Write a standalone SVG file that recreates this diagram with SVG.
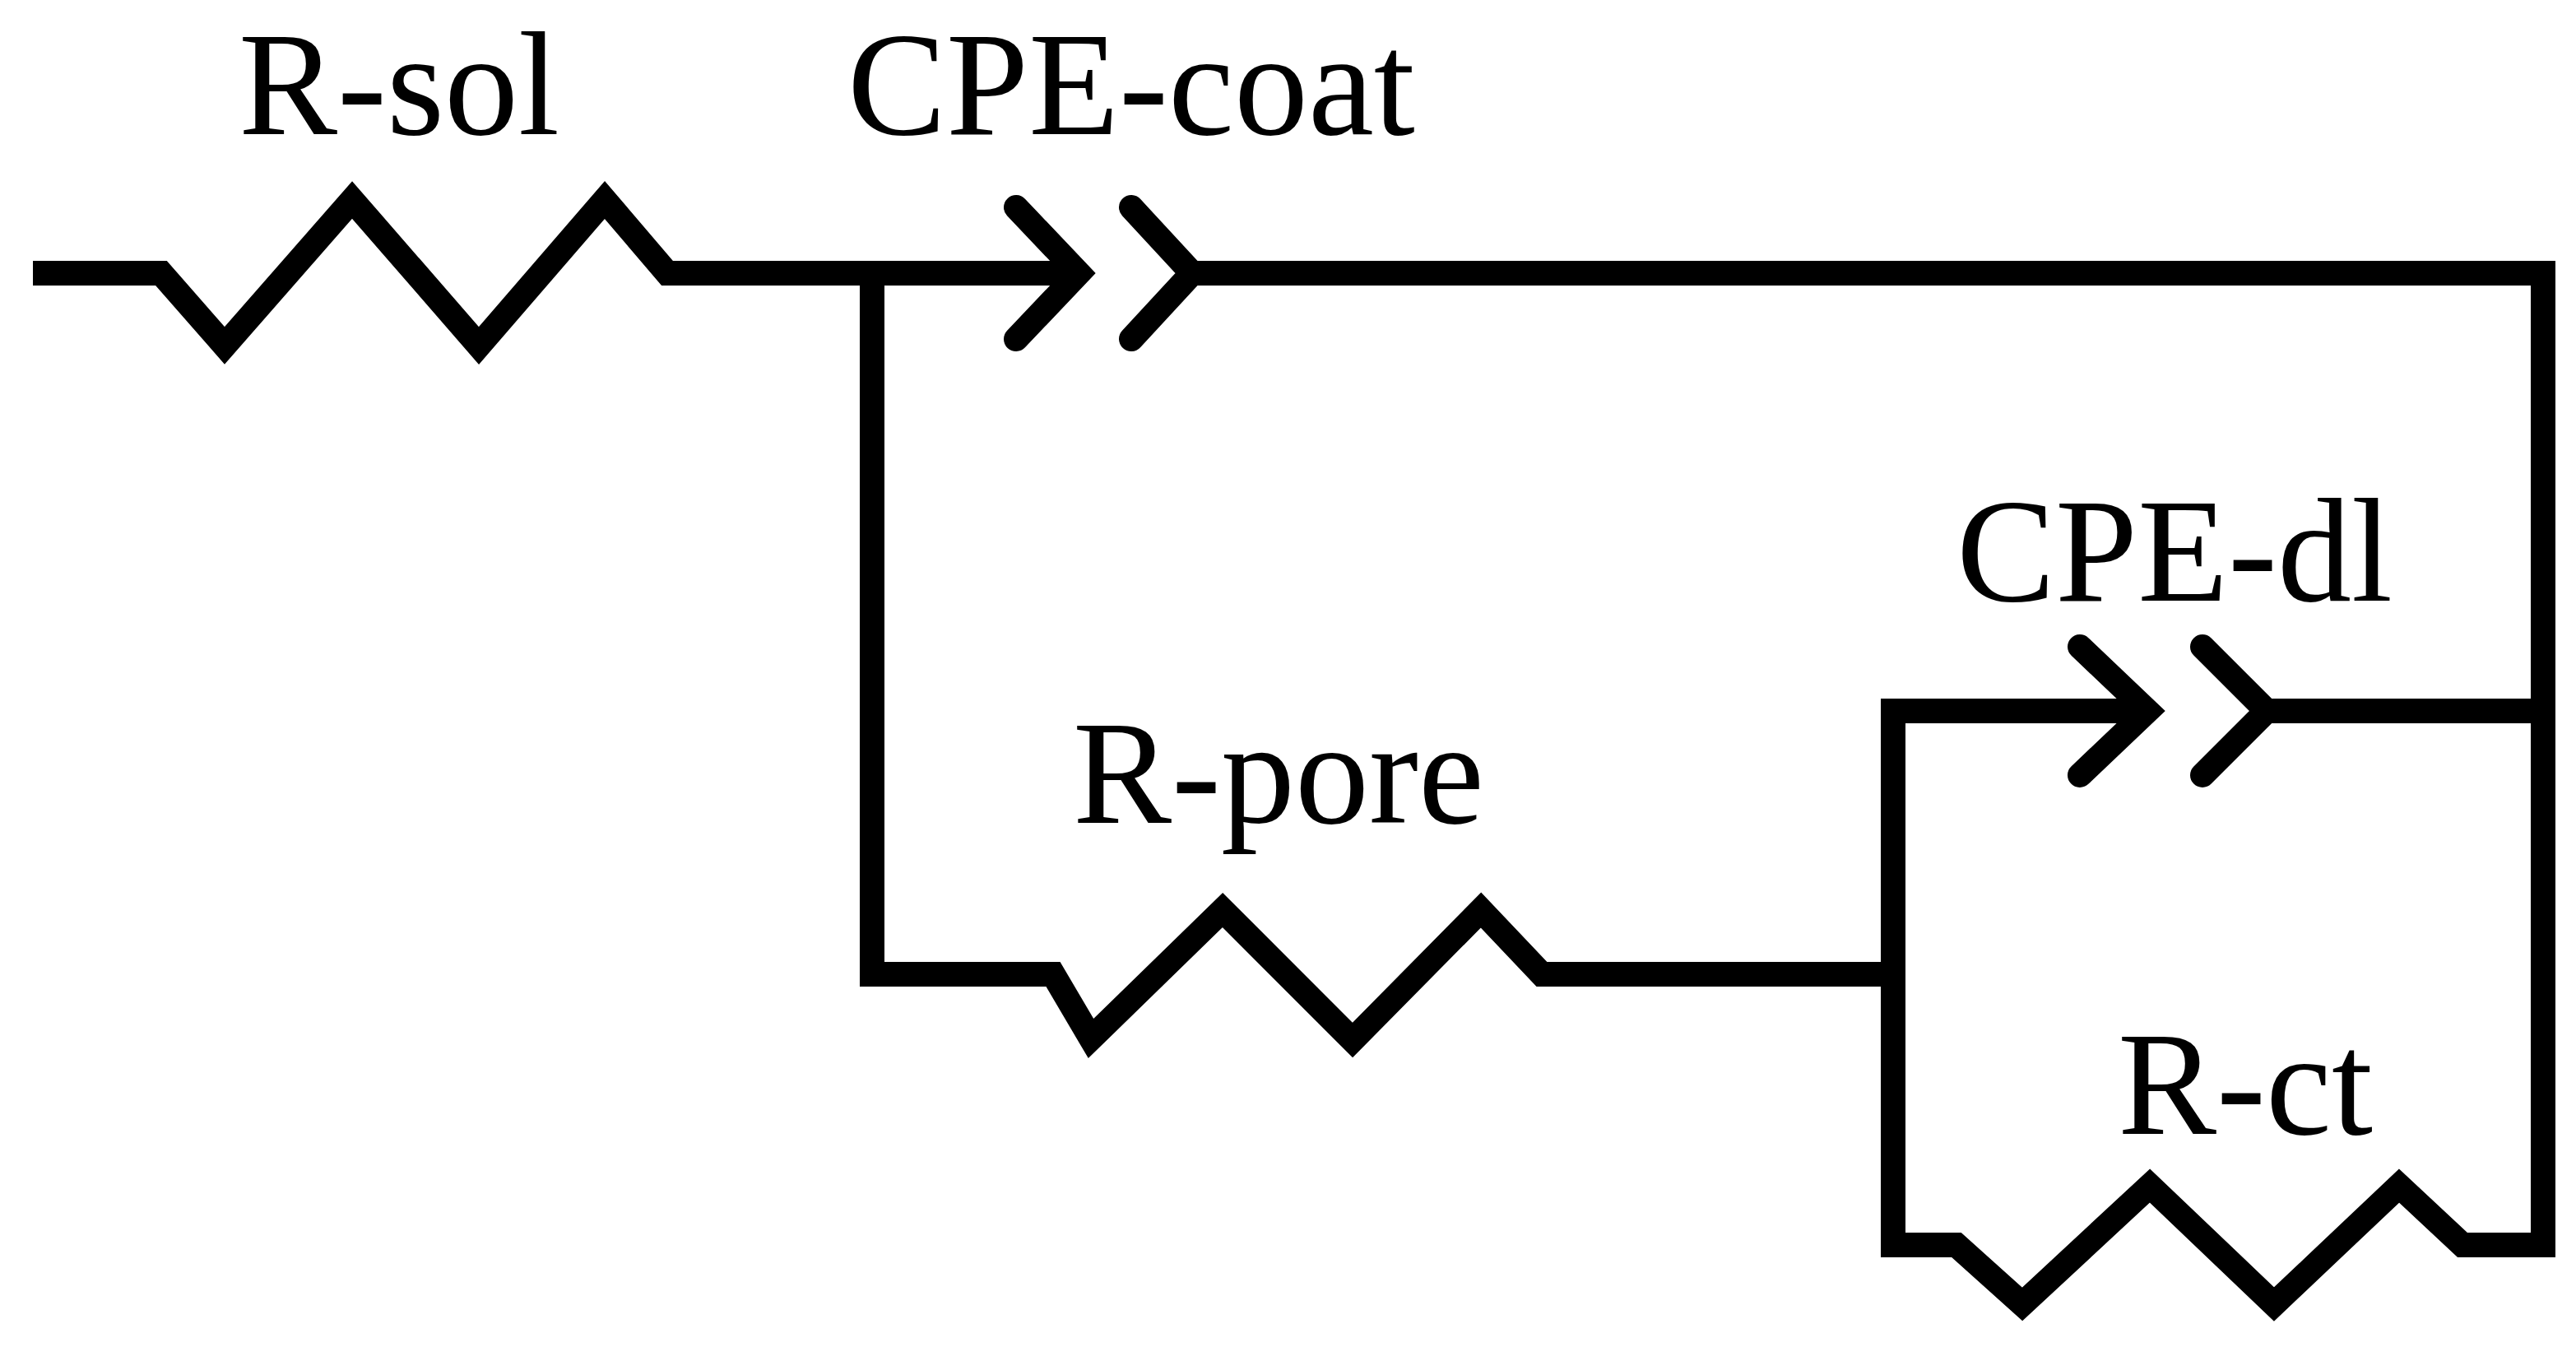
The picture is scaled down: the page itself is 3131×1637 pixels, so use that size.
<svg xmlns="http://www.w3.org/2000/svg" width="3131" height="1637" viewBox="0 0 3131 1637">
<style>
.w{fill:none;stroke:#000;stroke-width:30;stroke-linejoin:miter;stroke-linecap:square}
.r{fill:none;stroke:#000;stroke-width:30;stroke-linejoin:miter;stroke-linecap:butt}
.c{fill:none;stroke:#000;stroke-width:30;stroke-linecap:round;stroke-linejoin:miter}
.t{font-family:'Liberation Serif',serif;font-size:180px;fill:#000}
</style>
<rect width="3131" height="1637" fill="#fff"/>
<g id="connectors">
<polyline class="w" points="55,332 180,332"/>
<polyline class="w" points="827,332 1300,332"/>
<polyline class="w" points="1449,332 3091,332 3091,1513 3009,1513"/>
<polyline class="w" points="1060,332 1060,1184 1264,1184"/>
<polyline class="w" points="1890,1184 2301,1184"/>
<polyline class="w" points="2362,1513 2301,1513 2301,864 2600,864"/>
<polyline class="w" points="2755,864 3091,864"/>
</g>
<g id="R-sol">
<polyline class="r" points="170,332 196,332 273,420 428,243 582,420 735,243 811,332 840,332"/>
<text class="t" x="290" y="163">R-sol</text>
</g>
<g id="CPE-coat">
<polyline class="c" points="1235,252 1311,332 1235,412"/>
<polyline class="c" points="1375,252 1449,332 1375,412"/>
<text class="t" x="1030" y="163">CPE-coat</text>
</g>
<g id="R-pore">
<polyline class="r" points="1250,1184 1280,1184 1326,1262 1486,1106 1644,1264 1800,1106 1874,1184 1900,1184"/>
<text class="t" x="1304" y="1000">R-pore</text>
</g>
<g id="CPE-dl">
<polyline class="c" points="2528,786 2610,864 2528,942"/>
<polyline class="c" points="2677,786 2755,864 2677,942"/>
<text class="t" x="2378" y="730">CPE-dl</text>
</g>
<g id="R-ct">
<polyline class="r" points="2350,1513 2378,1513 2458,1585 2613,1441 2764,1585 2916,1441 2993,1513 3020,1513"/>
<text class="t" x="2574" y="1378">R-ct</text>
</g>
</svg>
